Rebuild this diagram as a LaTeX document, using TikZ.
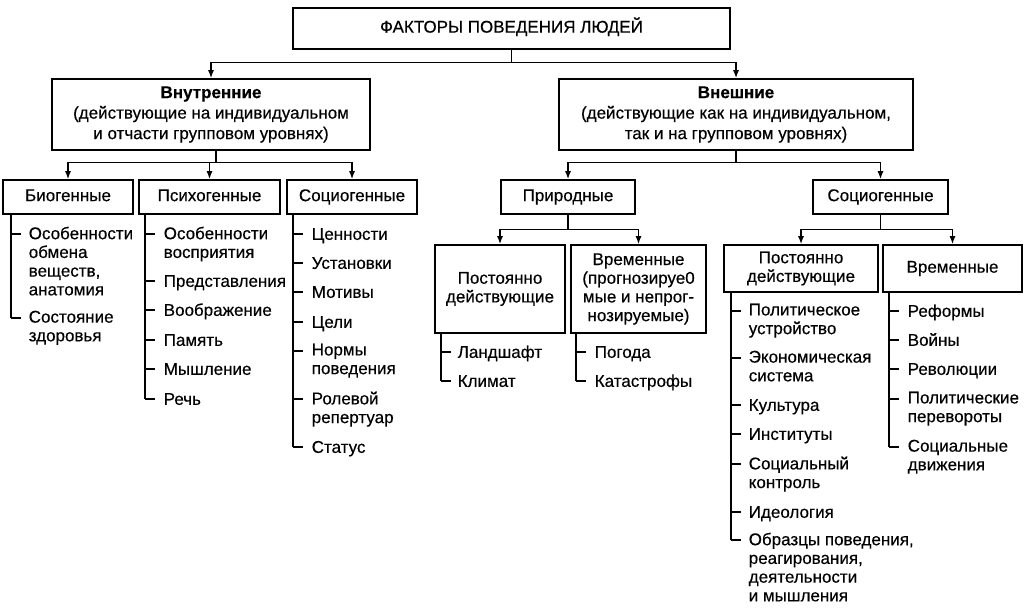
\documentclass[tikz,border=0pt]{standalone}
\usepackage{fontspec}
\setmainfont{Liberation Sans}[FakeBold=0.4]
\usetikzlibrary{arrows.meta,calc}
\newcommand\fs{\fontsize{17}{18.7}\selectfont}
\newcommand\bfs{\fontsize{17}{20.5}\selectfont}
% #1 name, #2 vline coordinate, #3 text x, #4 y of first line, #5 text
\newcommand\itm[5]{%
  \coordinate (#1t) at (#3,#4);
  \node[itm] (#1) at (#3,{#4-8}) {#5};
  \draw (#2 |- #1t) -- ++(10,0);
}
\begin{document}
\begin{tikzpicture}[x=1pt,y=-1pt,line width=1.5pt,
  box/.style={draw,rectangle,inner sep=0pt,align=center,font=\fs},
  single/.style={text height=11.8pt,text depth=3.5pt},
  bigbox/.style={draw,rectangle,inner sep=0pt,align=center,font=\bfs},
  itm/.style={anchor=north west,inner sep=0pt,align=left,font=\fs,execute at begin node=\strut},
  arr/.style={-{Latex[length=8pt,width=6pt]}}]
\useasboundingbox (0,0) rectangle (1030,612);

% boxes
\node[box,single,minimum width=437pt,minimum height=41pt] (top) at (511.5,28.5) {ФАКТОРЫ ПОВЕДЕНИЯ ЛЮДЕЙ};
\node[bigbox,minimum width=318pt,minimum height=71pt] (inner) at (211,114.5) {\textbf{Внутренние}\\(действующие на индивидуальном\\и отчасти групповом уровнях)};
\node[bigbox,minimum width=354pt,minimum height=71pt] (outer) at (736,114.5) {\textbf{Внешние}\\(действующие как на индивидуальном,\\так и на групповом уровнях)};

\node[box,single,minimum width=130pt,minimum height=34pt] (bio) at (68,197) {Биогенные};
\node[box,single,minimum width=141pt,minimum height=34pt] (psy) at (209.5,197) {Психогенные};
\node[box,single,minimum width=130pt,minimum height=34pt] (soc) at (352,197) {Социогенные};
\node[box,single,minimum width=134pt,minimum height=34pt] (nat) at (568,197) {Природные};
\node[box,single,minimum width=135pt,minimum height=34pt] (socE) at (880.5,197) {Социогенные};

\node[box,minimum width=130pt,minimum height=88pt] (natP) at (500,289) {Постоянно\\действующие};
\node[box,minimum width=135pt,minimum height=88pt] (natT) at (638.5,289) {Временные\\(прогнозируе0\\мые и непрог-\\нозируемые)};
\node[box,minimum width=154pt,minimum height=47pt] (socP) at (801,268.5) {Постоянно\\действующие};
\node[box,single,minimum width=139pt,minimum height=47pt] (socT) at (952.5,268.5) {Временные};

% connectors
\draw[arr] (top.south) -- ++(0,13) -| (inner.north);
\draw[arr] (top.south) -- ++(0,13) -| (outer.north);
\draw[arr] ([xshift=5pt]inner.south) -- ++(0,12) -| (bio.north);
\draw[arr] ([xshift=5pt]inner.south) -- ++(0,12) -| (psy.north);
\draw[arr] ([xshift=5pt]inner.south) -- ++(0,12) -| (soc.north);
\draw[arr] (outer.south) -- ++(0,12) -| (nat.north);
\draw[arr] (outer.south) -- ++(0,12) -| (socE.north);
\draw[arr] (nat.south) -- ++(0,15) -| (natP.north);
\draw[arr] (nat.south) -- ++(0,15) -| (natT.north);
\draw[arr] (socE.south) -- ++(0,15) -| (socP.north);
\draw[arr] (socE.south) -- ++(0,15) -| (socT.north);

% list trunks
\coordinate (bioV) at (11,214);
\coordinate (psyV) at (145,214);
\coordinate (socV) at (293,214);
\coordinate (natPV) at (441,333);
\coordinate (natTV) at (576,333);
\coordinate (socPV) at (731,292);
\coordinate (socTV) at (889,292);

% Biogenic
\itm{b1}{bioV}{28}{234}{Особенности\\обмена\\веществ,\\анатомия}
\itm{b2}{bioV}{28}{318}{Состояние\\здоровья}
\draw (bioV) -- (bioV |- b2t);

% Psychogenic
\itm{p1}{psyV}{163}{234}{Особенности\\восприятия}
\itm{p2}{psyV}{163}{281}{Представления}
\itm{p3}{psyV}{163}{310}{Воображение}
\itm{p4}{psyV}{163}{340}{Память}
\itm{p5}{psyV}{163}{369}{Мышление}
\itm{p6}{psyV}{163}{399}{Речь}
\draw (psyV) -- (psyV |- p6t);

% Sociogenic (internal)
\itm{s1}{socV}{311}{234}{Ценности}
\itm{s2}{socV}{311}{263}{Установки}
\itm{s3}{socV}{311}{292}{Мотивы}
\itm{s4}{socV}{311}{322}{Цели}
\itm{s5}{socV}{311}{351}{Нормы\\поведения}
\itm{s6}{socV}{311}{399}{Ролевой\\репертуар}
\itm{s7}{socV}{311}{447}{Статус}
\draw (socV) -- (socV |- s7t);

% Natural
\itm{n1}{natPV}{457}{352}{Ландшафт}
\itm{n2}{natPV}{457}{381}{Климат}
\draw (natPV) -- (natPV |- n2t);
\itm{t1}{natTV}{594}{352}{Погода}
\itm{t2}{natTV}{594}{381}{Катастрофы}
\draw (natTV) -- (natTV |- t2t);

% Sociogenic (external) permanent
\itm{e1}{socPV}{748}{311}{Политическое\\устройство}
\itm{e2}{socPV}{748}{358}{Экономическая\\система}
\itm{e3}{socPV}{748}{405}{Культура}
\itm{e4}{socPV}{748}{434}{Институты}
\itm{e5}{socPV}{748}{464}{Социальный\\контроль}
\itm{e6}{socPV}{748}{512}{Идеология}
\itm{e7}{socPV}{748}{540}{Образцы поведения,\\реагирования,\\деятельности\\и мышления}
\draw (socPV) -- (socPV |- e7t);

% Sociogenic (external) temporary
\itm{r1}{socTV}{907}{311}{Реформы}
\itm{r2}{socTV}{907}{340}{Войны}
\itm{r3}{socTV}{907}{369}{Революции}
\itm{r4}{socTV}{907}{399}{Политические\\перевороты}
\itm{r5}{socTV}{907}{447}{Социальные\\движения}
\draw (socTV) -- (socTV |- r5t);
\end{tikzpicture}
\end{document}
